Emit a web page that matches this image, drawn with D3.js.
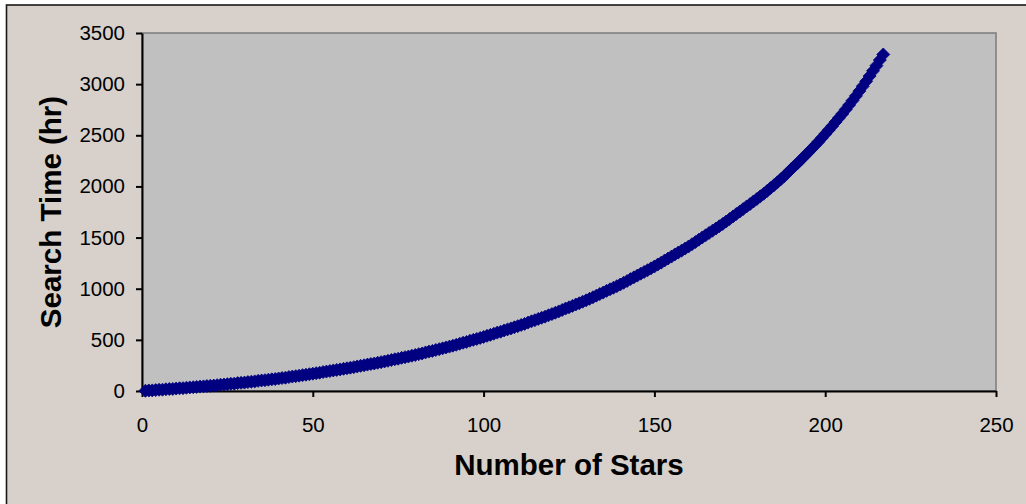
<!DOCTYPE html>
<html>
<head>
<meta charset="utf-8">
<script src="https://cdn.jsdelivr.net/npm/d3@7"></script>
<style>
  html, body { margin: 0; padding: 0; background: #ffffff; }
  svg { display: block; }
  text { font-family: Arial, "Liberation Sans", sans-serif; fill: #000; }
</style>
</head>
<body>
<svg id="chart" width="1026" height="504"></svg>
<script>
// Search time (hours) for each number of stars, 1..217
const stars = d3.range(1, 218);
const searchHours = [
  2, 5, 6, 9, 12, 13, 17, 19, 20, 24,
  27, 28, 32, 35, 37, 40, 43, 45, 48, 51,
  53, 57, 61, 63, 67, 70, 72, 77, 80, 82,
  87, 91, 94, 99, 103, 106, 110, 114, 117, 122,
  127, 130, 136, 141, 145, 150, 155, 159, 164, 169,
  174, 179, 185, 190, 195, 201, 206, 211, 217, 222,
  228, 233, 240, 246, 251, 258, 264, 269, 276, 282,
  289, 295, 303, 310, 316, 324, 331, 337, 345, 352,
  360, 367, 377, 385, 392, 401, 409, 417, 426, 434,
  443, 452, 462, 472, 480, 491, 500, 509, 519, 529,
  539, 549, 560, 571, 580, 592, 602, 612, 623, 634,
  646, 656, 669, 681, 692, 705, 716, 727, 740, 752,
  765, 778, 792, 806, 818, 832, 846, 858, 873, 886,
  901, 916, 932, 948, 962, 979, 994, 1009, 1025, 1041,
  1058, 1075, 1094, 1111, 1128, 1147, 1164, 1181, 1199, 1217,
  1237, 1255, 1276, 1295, 1314, 1335, 1354, 1373, 1393, 1413,
  1435, 1456, 1479, 1501, 1522, 1545, 1567, 1588, 1611, 1633,
  1657, 1681, 1706, 1731, 1754, 1779, 1804, 1827, 1853, 1877,
  1903, 1928, 1956, 1984, 2011, 2040, 2070, 2100, 2133, 2167,
  2199, 2230, 2264, 2298, 2331, 2366, 2401, 2436, 2474, 2512,
  2550, 2588, 2629, 2669, 2709, 2752, 2795, 2839, 2885, 2932,
  2980, 3028, 3079, 3130, 3181, 3236, 3290
];
const xTicks = [0, 50, 100, 150, 200, 250];
const yTicks = [0, 500, 1000, 1500, 2000, 2500, 3000, 3500];
const xTitle = "Number of Stars";
const yTitle = "Search Time (hr)";

const points = stars.map((s, i) => ({ s, h: searchHours[i] }));

const svg = d3.select("#chart");
const plot = { left: 142, top: 33, right: 996, bottom: 391 };

// chart area with its frame
svg.append("rect")
  .attr("x", 6.5).attr("y", 5)
  .attr("width", 1030).attr("height", 510)
  .attr("fill", "#d7d0cb")
  .attr("stroke", "#1a1a1a").attr("stroke-width", 1.6);

const x = d3.scaleLinear().domain([0, 250]).range([plot.left, plot.right]);
const y = d3.scaleLinear().domain([0, 3500]).range([plot.bottom, plot.top]);

// plot area
svg.append("rect")
  .attr("x", plot.left).attr("y", plot.top)
  .attr("width", plot.right - plot.left).attr("height", plot.bottom - plot.top)
  .attr("fill", "#c0c0c0")
  .attr("stroke", "#808080").attr("stroke-width", 1.6);

// axes
const plain = d3.format("d");
const xAxis = svg.append("g")
  .attr("transform", `translate(0,${plot.bottom})`)
  .call(d3.axisBottom(x).tickValues(xTicks).tickFormat(plain)
    .tickSize(6).tickSizeOuter(0).tickPadding(20));
const yAxis = svg.append("g")
  .attr("transform", `translate(${plot.left},0)`)
  .call(d3.axisLeft(y).tickValues(yTicks).tickFormat(plain)
    .tickSize(6).tickSizeOuter(0).tickPadding(11));

[xAxis, yAxis].forEach(g => {
  g.select(".domain").attr("stroke", "#000").attr("stroke-width", 2);
  g.selectAll(".tick line").attr("stroke", "#000").attr("stroke-width", 2);
  g.selectAll(".tick text")
    .attr("font-size", 20.5)
    .attr("font-family", "Arial, 'Liberation Sans', sans-serif")
    .attr("fill", "#000");
});

// data markers (diamonds)
const r = 6.5;
const diamond = `M0,${-r}L${r},0L0,${r}L${-r},0Z`;
svg.append("g")
  .selectAll("path")
  .data(points)
  .join("path")
  .attr("d", diamond)
  .attr("transform", d => `translate(${x(d.s)},${y(d.h)})`)
  .attr("fill", "#000080")
  .attr("stroke", "#000080")
  .attr("stroke-width", 0.8);

// axis titles
svg.append("text")
  .attr("x", (plot.left + plot.right) / 2)
  .attr("y", 475)
  .attr("text-anchor", "middle")
  .attr("font-size", 29.5)
  .attr("font-weight", "bold")
  .text(xTitle);

svg.append("text")
  .attr("transform", `translate(61,${(plot.top + plot.bottom) / 2}) rotate(-90)`)
  .attr("text-anchor", "middle")
  .attr("font-size", 29.5)
  .attr("font-weight", "bold")
  .text(yTitle);
</script>
</body>
</html>
